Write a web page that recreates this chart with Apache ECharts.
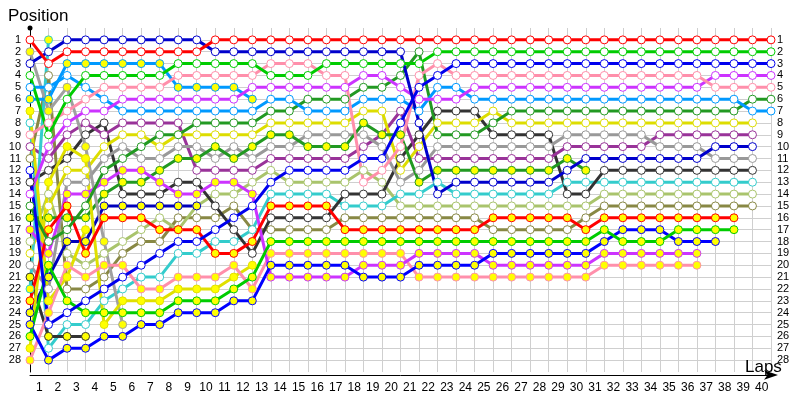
<!DOCTYPE html>
<html><head><meta charset="utf-8">
<script src="https://cdn.jsdelivr.net/npm/echarts@6/dist/echarts.min.js"></script>
<style>html,body{margin:0;padding:0;background:#fff}#c{width:800px;height:400px}</style>
</head><body><div id="c"></div>
<script>
// x tick labels (laps) and y tick labels (positions)
const lapLabels = ['1','2','3','4','5','6','7','8','9','10','11','12','13','14','15','16','17','18','19','20','21','22','23','24','25','26','27','28','29','30','31','32','33','34','35','36','37','38','39','40'];
const positionLabels = [1,2,3,4,5,6,7,8,9,10,11,12,13,14,15,16,17,18,19,20,21,22,23,24,25,26,27,28];

// position per lap (index 0 = start grid)
const redW = [1,3,2,2,2,2,2,2,2,2,1,1,1,1,1,1,1,1,1,1,1,1,1,1,1,1,1,1,1,1,1,1,1,1,1,1,1,1,1,1,1];
const blueW = [3,2,1,1,1,1,1,1,1,1,2,2,2,2,2,2,2,2,2,2,2,8,14,13,13,13,13,13,13,12,11,11,11,11,11,11,11,10,10,10];
const navyW = [12,25,24,23,22,21,20,19,18,18,17,16,15,13,12,12,12,12,11,11,8,5,4,3,3,3,3,3,3,3,3,3,3,3,3,3,3,3,3,3,3];
const greenW = [4,9,6,4,4,4,4,4,3,3,3,3,3,4,4,4,3,3,3,3,3,3,2,2,2,2,2,2,2,2,2,2,2,2,2,2,2,2,2,2,2];
const azureY = [6,6,3,3,3,3,3,3,5,5,5,5,6];
const azureW = [5,5,4,5,6,7,7,7,7,7,7,7,7,6,6,7,7,7,6,6,6,7,5,5,6,6,6,6,6,6,6,6,6,6,6,6,6,6,6,7,7];
const pinkW = [9,8,7,6,5,5,5,5,4,4,4,4,4,3,3,3,4,4,13,12,10,4,3,4,4,4,4,4,4,4,4,4,4,4,4,4,4,5,5,5,5];
const violetW = [14,10,8,7,7,6,6,6,6,6,6,6,5,5,5,5,5,5,4,4,5,6,6,6,5,5,5,5,5,5,5,5,5,5,5,5,5,4,4,4,4];
const darkGreenW = [15,18,17,15,12,11,10,9,9,8,8,8,8,7,7,6,6,6,5,5,4,2,9,9,9,8,7,7,7,7,7,7,7,7,7,7,7,7,7,6,6];
const yellowW = [19,15,12,12,10,9,9,10,9,9,9,9,9,8,8,8,8,8,7,7,12,10,8,8,8,7,8,8,8,8,8,8,8,8,8,8,8,8,8,8];
const grayW = [20,22,13,13,11,10,11,11,10,10,11,10,11,10,10,9,9,9,9,10,13,12,10,10,10,10,10,10,10,9,9,9,9,9,10,10,10,11,11,11];
const purpleW = [10,11,9,8,9,8,8,8,8,12,12,12,12,11,11,11,11,11,10,9,7,11,11,11,11,11,11,11,11,10,10,10,10,10,9,9,9,9,9,9];
const darkGrayW = [13,12,11,9,8,14,14,14,13,13,15,17,19,16,16,16,16,14,14,14,11,9,7,7,7,9,9,9,9,14,14,12,12,12,12,12,12,12,12,12];
const cyanW = [8,27,25,25,23,22,21,21,19,19,18,18,17,14,14,14,14,15,15,15,14,14,13,14,14,14,14,14,14,13,13,13,13,13,13,13,13,13,13,13];
const lightOliveW = [18,14,19,20,19,18,17,16,17,15,14,14,13,12,13,13,13,13,12,13,15,15,15,15,15,15,15,15,15,15,15,14,14,14,14,14,14,14,14,14];
const oliveW = [11,4,22,22,21,19,18,18,16,16,16,15,17,17,17,17,17,16,16,16,16,16,16,16,16,17,17,17,17,17,16,15,15,15,15,15,15,15,15,15];
const redY = [23,17,15,19,16,16,16,17,17,17,19,19,18,15,15,15,15,17,17,17,17,17,17,17,17,16,16,16,16,16,17,16,16,16,16,16,16,16,16];
const greenY = [26,20,23,24,24,24,24,24,23,23,23,22,21,18,18,18,18,18,18,18,18,18,18,18,18,18,18,18,18,18,18,17,18,18,18,17,17,17,17];
const blueY = [25,28,27,27,26,26,25,25,24,24,24,23,23,20,20,20,20,20,21,21,21,20,20,20,20,19,19,19,19,19,19,18,17,17,17,18,18,18];
const violetY = [17,19,14,14,13,12,12,13,14,14,13,13,14,21,21,21,21,21,20,20,20,19,19,19,19,20,20,20,20,20,20,19,19,19,19,19,19];
const pinkY = [28,24,20,21,20,20,22,22,21,21,21,20,22,19,19,19,19,19,19,19,19,21,21,21,21,21,21,21,21,21,21,20,20,20,20,20,20];
const darkGreenY = [16,16,16,16,14,13,13,12,11,11,10,11,10,9,9,10,10,10,8,9,9,13,12,12,12,12,12,12,12,11,12];
const darkGrayY = [21,26,26,26];
const navyY = [24,21,18,18,15,15,15,15,15,15];
const cyanY = [22,1];
const grayY = [2,7,5,10,18,25];
const yellowYA = [27,13,10,11,25,23,23,23,22,22,22,21,20];
const yellowYB = [7,23,21,17];

// styles: [line colour, marker fill]
const W = '#ffffff', Y = '#ffff00';
const drivers = [
  [oliveW,'#888844',W],[lightOliveW,'#a9c46c',W],[cyanW,'#33cccc',W],[darkGrayW,'#333333',W],
  [purpleW,'#993399',W],[grayW,'#999999',W],[yellowW,'#dddd00',W],
  [darkGreenY,'#229922',Y],[darkGrayY,'#333333',Y],[navyY,'#0000bb',Y],[cyanY,'#33cccc',Y],
  [grayY,'#a0a0a0',Y],[yellowYA,'#e0e000',Y],[yellowYB,'#e0e000',Y],[azureY,'#0099ff',Y],
  [pinkY,'#ff8fab',Y],[violetY,'#cc33ff',Y],[blueY,'#0000ff',Y],[greenY,'#00cc00',Y],[redY,'#ff0000',Y],
  [darkGreenW,'#229922',W],[azureW,'#0099ff',W],[violetW,'#cc33ff',W],[pinkW,'#ff8fab',W],
  [blueW,'#0000cc',W],[navyW,'#0000ee',W],[greenW,'#00cc00',W],[redW,'#ff0000',W]
];

const series = drivers.map(([d,c,f]) => ({
  type:'line', xAxisIndex:0, yAxisIndex:0,
  data: d.map((p,i)=>[i,p]),
  symbol:'circle', symbolSize:8, showSymbol:true, showAllSymbol:true,
  lineStyle:{color:c,width:3},
  itemStyle:{color:f,borderColor:c,borderWidth:1},
  emphasis:{disabled:true}, silent:true
}));

const FONT = 'Liberation Sans';
const chart = echarts.init(document.getElementById('c'));
chart.setOption({
  animation:false,
  title:[
    {text:'Position',left:3,top:3,textStyle:{fontFamily:FONT,fontSize:17,fontWeight:'normal',color:'#000'}},
    {text:'Laps',left:740,top:354,textStyle:{fontFamily:FONT,fontSize:17,fontWeight:'normal',color:'#000'}}
  ],
  grid:{left:30,right:29,top:28,bottom:28},
  xAxis:[
    {type:'value',min:0,max:40,interval:1,offset:3,position:'bottom',
     axisLine:{show:true,onZero:false,lineStyle:{color:'#000',width:1},symbol:['none','arrow'],symbolSize:[7,14],symbolOffset:[0,7]},
     axisTick:{show:false},axisLabel:{show:false},
     splitLine:{show:true,showMinLine:false,lineStyle:{color:'#cfcfcf',width:1}}},
    {type:'category',data:lapLabels,boundaryGap:true,position:'bottom',offset:3,
     axisLine:{show:false,onZero:false},axisTick:{show:false},splitLine:{show:false},
     axisLabel:{fontFamily:FONT,fontSize:12,color:'#000',margin:7,interval:0}}
  ],
  yAxis:[
    {type:'value',inverse:true,min:0,max:29,interval:1,position:'left',
     axisLine:{show:true,onZero:false,lineStyle:{color:'#000',width:1},symbol:['none','circle'],symbolSize:[5,5]},
     axisTick:{show:false},
     axisLabel:{fontFamily:FONT,fontSize:11,color:'#000',margin:9,
       formatter:v=>positionLabels.includes(v)?String(v):''},
     splitLine:{show:true,showMinLine:false,showMaxLine:false,lineStyle:{color:'#cfcfcf',width:1}}},
    {type:'value',inverse:true,min:0,max:29,interval:1,position:'right',
     axisLine:{show:false,onZero:false},axisTick:{show:false},splitLine:{show:false},
     axisLabel:{fontFamily:FONT,fontSize:11,color:'#000',margin:6,
       formatter:v=>positionLabels.includes(v)?String(v):''}}
  ],
  series
});
</script></body></html>
